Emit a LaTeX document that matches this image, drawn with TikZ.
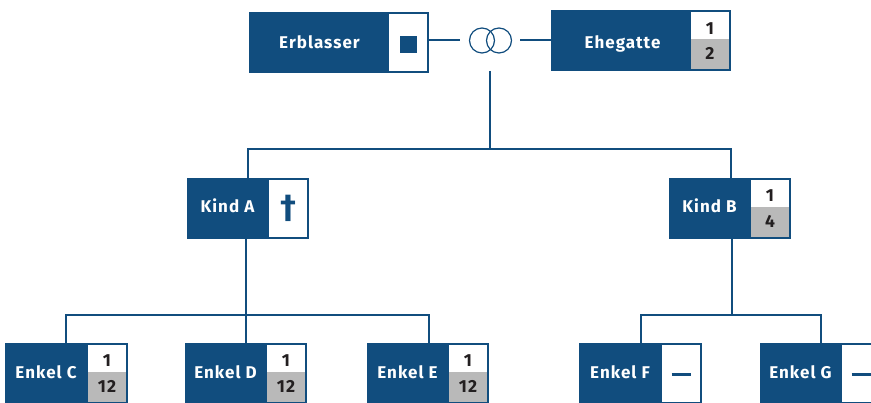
\documentclass[tikz,border=0pt]{standalone}
\usepackage{fontspec}
\setmainfont{Fira Sans}[LetterSpace=6]
\newfontfamily\crossfont{DejaVu Sans}
\usetikzlibrary{positioning}
\definecolor{famblue}{HTML}{114D7E}
\definecolor{famgray}{HTML}{B9B9B9}
\definecolor{famnum}{HTML}{231F20}
\tikzset{
  namebox/.style={fill=famblue,text=white,font=\fontsize{17}{20}\selectfont\bfseries,
    minimum height=61pt,inner sep=0pt,outer sep=0pt,text height=12pt,text depth=3pt},
  sidebox/.style={draw=famblue,line width=2pt,fill=white,minimum width=40pt,minimum height=59pt,
    inner sep=0pt},
  numtop/.style={fill=white,text=famnum,minimum width=38pt,minimum height=27.5pt,inner sep=0pt,
    outer sep=0pt,anchor=south,yshift=1pt,text height=16.5pt,text depth=0pt,
    font=\fontsize{17.5}{20}\selectfont\bfseries},
  numbot/.style={fill=famgray,text=famnum,minimum width=38pt,minimum height=29.5pt,inner sep=0pt,
    outer sep=0pt,anchor=north,yshift=1pt,text height=10.5pt,text depth=0pt,
    font=\fontsize{17.5}{20}\selectfont\bfseries},
  ring/.style={draw=famblue,line width=1.2pt,circle,minimum size=25pt,inner sep=0pt},
  link/.style={draw=famblue,line width=2pt},
  enkelbox/.style={namebox,text height=14pt},
}
\begin{document}
\begin{tikzpicture}[x=1pt,y=-1pt]
      \path[use as bounding box,clip] (0,0) rectangle (871,403);

      % Junction points
      \coordinate (ringsout) at (490,71);
      \coordinate (split) at (490,149);
      \coordinate (splita) at (248,149);
      \coordinate (splitb) at (731,149);
      \coordinate (huba) at (246,315);
      \coordinate (hubb) at (732,315);
      \coordinate (topc) at (66,315);
      \coordinate (tope) at (429,315);
      \coordinate (topf) at (641,315);
      \coordinate (topg) at (821,315);

      % Couple
      \node[namebox,minimum width=139pt,text height=13pt,text depth=0pt] (erblasser) at (318.5,42.5) {\hspace*{2pt}Erblasser};
      \node[sidebox,right=-1pt of erblasser] (erblasserside) {};
      \node[text=famblue,yshift=-2pt] (erblassermark) at (erblasserside) {\rule{17pt}{17pt}};
      \node[ring] (ringl) at (482,40.5) {};
      \node[ring] (ringr) at (499,40.5) {};
      \node[namebox,minimum width=139pt,text height=17pt,text depth=0pt] (ehegatte) at (620.5,40.5) {\hspace*{4pt}Ehegatte};
      \node[sidebox,right=-1pt of ehegatte] (ehegatteside) {};
      \node[numtop,text height=18pt] (ehegatteup) at (ehegatteside.center) {1};
      \node[numbot] (ehegattelow) at (ehegatteside.center) {2};

      % Children
      \node[namebox,minimum width=81pt] (kinda) at (227.5,208.5) {Kind A};
      \node[sidebox,right=-1pt of kinda] (kindaside) {};
      \node[text=famblue,font=\crossfont\fontsize{32}{32}\selectfont\bfseries] (kindamark) at (kindaside) {†};
      \node[namebox,minimum width=81pt] (kindb) at (709.5,208.5) {Kind B};
      \node[sidebox,right=-1pt of kindb] (kindbside) {};
      \node[numtop] (kindbup) at (kindbside.center) {1};
      \node[numbot] (kindblow) at (kindbside.center) {4};

      % Grandchildren
      \node[enkelbox,minimum width=82pt] (enkelc) at (46,373.5) {Enkel C};
      \node[sidebox,right=-1pt of enkelc] (enkelcside) {};
      \node[numtop] (enkelcup) at (enkelcside.center) {1};
      \node[numbot] (enkelclow) at (enkelcside.center) {12};
      \node[enkelbox,minimum width=81pt] (enkeld) at (225.5,373.5) {Enkel D};
      \node[sidebox,right=-1pt of enkeld] (enkeldside) {};
      \node[numtop] (enkeldup) at (enkeldside.center) {1};
      \node[numbot] (enkeldlow) at (enkeldside.center) {12};
      \node[enkelbox,minimum width=81pt] (enkele) at (407.5,373.5) {Enkel E};
      \node[sidebox,right=-1pt of enkele] (enkeleside) {};
      \node[numtop] (enkeleup) at (enkeleside.center) {1};
      \node[numbot] (enkelelow) at (enkeleside.center) {12};
      \node[enkelbox,minimum width=82pt] (enkelf) at (620,373.5) {Enkel F};
      \node[sidebox,right=-1pt of enkelf] (enkelfside) {};
      \node[text=famblue,yshift=-1pt] (enkelfmark) at (enkelfside) {\rule{19pt}{3pt}};
      \node[enkelbox,minimum width=81pt] (enkelg) at (800.5,373.5) {Enkel G};
      \node[sidebox,right=-1pt of enkelg] (enkelgside) {};
      \node[text=famblue,yshift=-1pt] (enkelgmark) at (enkelgside) {\rule{19pt}{3pt}};

      % Links
      \draw[link,shorten >=9pt] (erblasserside.east |- ringl.west) -- (ringl.west);
      \draw[link,shorten <=8pt] (ringr.east) -- (ehegatte.west |- ringr.east);
      \draw[link] (ringsout) -- (split);
      \draw[link] (kinda.north -| splita) -- (splita) -- (splitb) -- (kindb.north -| splitb);
      \draw[link] (kinda.south -| huba) -- (huba);
      \draw[link] (kindb.south -| hubb) -- (hubb);
      \draw[link] (enkelc.north -| topc) -- (topc) -- (tope) -- (enkeleside.north -| tope);
      \draw[link] (huba) -- (enkeld.north -| huba);
      \draw[link] (enkelf.north -| topf) -- (topf) -- (topg) -- (enkelg.north -| topg);
    \end{tikzpicture}
\end{document}
